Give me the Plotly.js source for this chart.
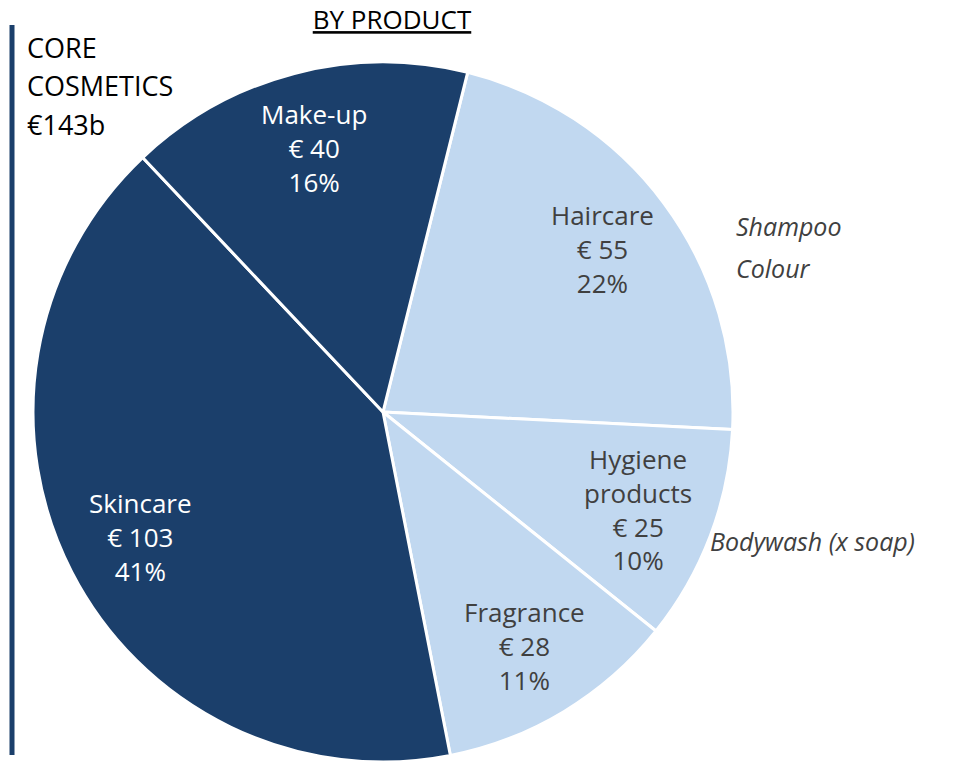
<!DOCTYPE html>
<html>
<head>
<meta charset="utf-8">
<script src="https://cdn.plot.ly/plotly-3.0.1.min.js"></script>
<style>html,body{margin:0;padding:0;background:#fff;}#chart{width:973px;height:765px;}</style>
</head>
<body>
<div id="chart"></div>
<script>
const categories = ['Haircare', 'Hygiene<br>products', 'Fragrance', 'Skincare', 'Make-up'];
const valuesBn = [55, 25, 28, 103, 40];
const sliceColors = ['#c1d8f0', '#c1d8f0', '#c1d8f0', '#1b3f6b', '#1b3f6b'];
const textColors = ['#404040', '#404040', '#404040', '#ffffff', '#ffffff'];
const titleText = 'BY PRODUCT';
const sideLabel = ['CORE', 'COSMETICS', '€143b'];
const subNotesHair = ['Shampoo', 'Colour'];
const subNotesHygiene = ['Bodywash (x soap)'];

const FONT = '"Open Sans", Lato, "DejaVu Sans", sans-serif';
const ROTATION = 14;
const LABEL_R = 0.78; // label distance as fraction of radius

const total = valuesBn.reduce((a, b) => a + b, 0);

const trace = {
  type: 'pie',
  labels: categories,
  values: valuesBn,
  sort: false,
  direction: 'clockwise',
  rotation: ROTATION,
  marker: {colors: sliceColors, line: {color: '#ffffff', width: 3}},
  textinfo: 'none',
  hoverinfo: 'label+value+percent',
  showlegend: false
};

// slice labels, placed along each slice's mid-angle
const sliceAnnotations = [];
let cum = 0;
valuesBn.forEach((v, i) => {
  const mid = (ROTATION + 360 * (cum + v / 2) / total) * Math.PI / 180;
  cum += v;
  const pct = Math.round(100 * v / total);
  sliceAnnotations.push({
    text: categories[i] + '<br>€ ' + v + '<br>' + pct + '%',
    xref: 'paper', yref: 'paper',
    x: 0.5 + LABEL_R * 0.5 * Math.sin(mid),
    y: 0.5 + LABEL_R * 0.5 * Math.cos(mid),
    xanchor: 'center', yanchor: 'middle', align: 'center',
    showarrow: false,
    font: {family: FONT, size: 26, color: textColors[i]}
  });
});

// pixel helpers (plot domain: left 33, top 62, 700x700)
const px = x => (x - 33) / 700;
const py = y => (762 - y) / 700;

const textAnnotations = [];
sideLabel.forEach((t, i) => textAnnotations.push({
  text: t, xref: 'paper', yref: 'paper', x: px(25), y: py(47 + 39 * i),
  xanchor: 'left', yanchor: 'middle', align: 'left', showarrow: false,
  font: {family: FONT, size: 27, color: '#000000'}
}));
subNotesHair.forEach((t, i) => textAnnotations.push({
  text: '<i>' + t + '</i>', xref: 'paper', yref: 'paper', x: px(734), y: py(226 + 42 * i),
  xanchor: 'left', yanchor: 'middle', align: 'left', showarrow: false,
  font: {family: FONT, size: 25, color: '#404040'}
}));
subNotesHygiene.forEach((t, i) => textAnnotations.push({
  text: '<i>' + t + '</i>', xref: 'paper', yref: 'paper', x: px(708), y: py(541 + 42 * i),
  xanchor: 'left', yanchor: 'middle', align: 'left', showarrow: false,
  font: {family: FONT, size: 25, color: '#404040'}
}));

const layout = {
  width: 973, height: 765,
  margin: {l: 33, r: 240, t: 62, b: 3, autoexpand: false},
  paper_bgcolor: '#ffffff',
  plot_bgcolor: '#ffffff',
  font: {family: FONT, color: '#404040'},
  title: {
    text: '<span style="text-decoration:underline">' + titleText + '</span>',
    font: {family: FONT, size: 26, color: '#000000'},
    xref: 'container', yref: 'container',
    x: 392 / 973, xanchor: 'center',
    y: 1 - 20 / 765, yanchor: 'middle'
  },
  shapes: [{
    type: 'line', xref: 'paper', yref: 'paper',
    x0: px(12), x1: px(12), y0: py(755), y1: py(25),
    line: {color: '#1b3f6b', width: 5}
  }],
  annotations: sliceAnnotations.concat(textAnnotations)
};

Plotly.newPlot('chart', [trace], layout, {displayModeBar: false, staticPlot: true});
</script>
</body>
</html>
